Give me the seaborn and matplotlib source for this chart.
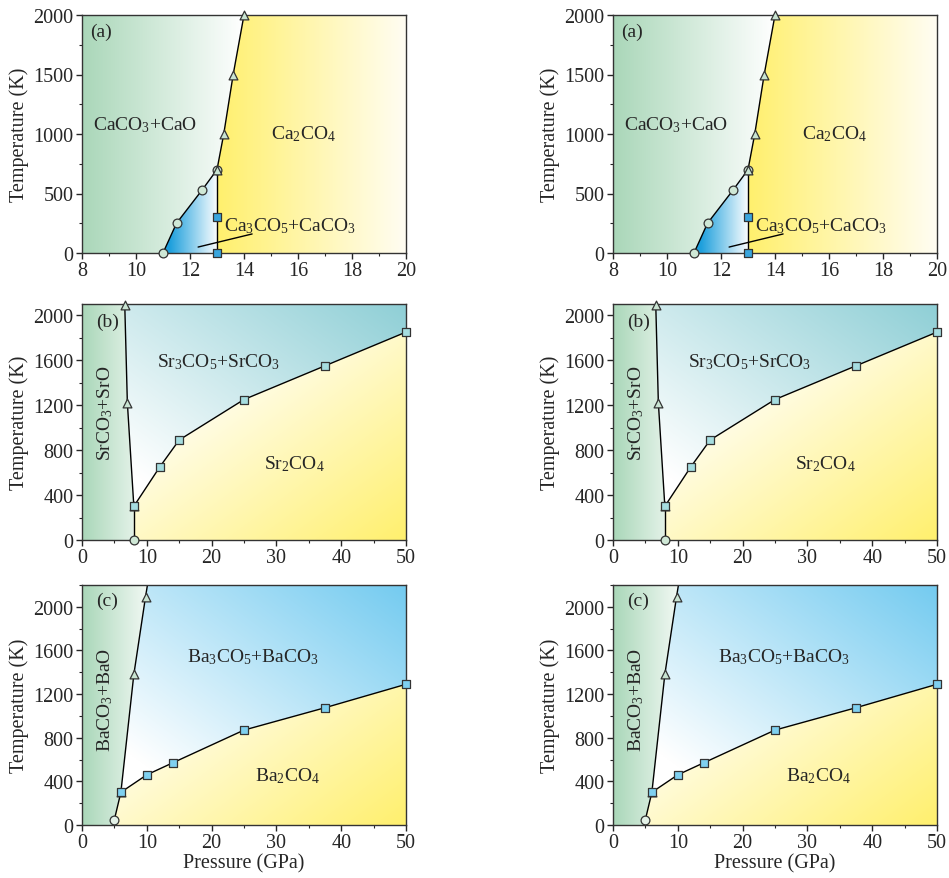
import numpy as np
import matplotlib
matplotlib.use("Agg")
import matplotlib.pyplot as plt
from matplotlib.colors import LinearSegmentedColormap
from matplotlib.patches import Polygon
from matplotlib.ticker import MultipleLocator
import seaborn as sns

sns.set_style("ticks")
plt.rcParams['font.family'] = ['Liberation Serif', 'DejaVu Serif']
plt.rcParams['mathtext.fontset'] = 'custom'
plt.rcParams['mathtext.default'] = 'regular'

# ---- data (pressure in GPa, temperature in K) ----
# panel (a) Ca
a_circ_p = [11.0, 11.5, 12.45, 13.0]
a_circ_t = [0, 250, 530, 700]
a_tri_p = [13.0, 13.25, 13.6, 14.0]
a_tri_t = [700, 1000, 1500, 2000]
a_sq_p = [13.0, 13.0]
a_sq_t = [0, 300]

# panel (b) Sr
b_tri_p = [6.6, 7.0, 8.0]
b_tri_t = [2090, 1220, 300]
b_circ_p = [8.0]
b_circ_t = [0]
b_sq_p = [8.0, 12.0, 15.0, 25.0, 37.5, 50.0]
b_sq_t = [300, 650, 890, 1250, 1550, 1850]
b_top = (6.55, 2100)

# panel (c) Ba
c_circ_p = [5.0]
c_circ_t = [50]
c_tri_p = [6.0, 8.0, 9.8]
c_tri_t = [300, 1380, 2090]
c_sq_p = [6.0, 10.0, 14.0, 25.0, 37.5, 50.0]
c_sq_t = [300, 460, 570, 870, 1075, 1290]
c_top = (10.1, 2200)

GREEN = '#aad7b9'
YELLOW = '#fff06e'
BLUE_A = '#1d9fdc'
TEAL_B = '#8fcfd6'
BLUE_C = '#74cbf0'
EDGE = '#333333'


def fill_region(ax, pts, xlim, ylim, tfunc, c0, c1, t0, t1):
    xs = np.linspace(xlim[0], xlim[1], 400)
    ys = np.linspace(ylim[0], ylim[1], 400)
    X, Y = np.meshgrid(xs, ys)
    U = (X - xlim[0]) / (xlim[1] - xlim[0])
    V = (Y - ylim[0]) / (ylim[1] - ylim[0])
    T = np.clip((tfunc(U, V) - t0) / (t1 - t0), 0, 1)
    cmap = LinearSegmentedColormap.from_list('g', [c0, c1])
    im = ax.imshow(T, cmap=cmap, vmin=0, vmax=1, origin='lower',
                   extent=[xlim[0], xlim[1], ylim[0], ylim[1]],
                   aspect='auto', zorder=0, interpolation='bilinear')
    patch = Polygon(pts, closed=True, transform=ax.transData,
                    facecolor='none', edgecolor='none')
    ax.add_patch(patch)
    im.set_clip_path(patch)


def line(ax, x, y):
    sns.lineplot(x=x, y=y, sort=False, estimator=None, color='black',
                 linewidth=1.0, ax=ax, zorder=2)


def marks(ax, x, y, marker, face, s):
    sns.scatterplot(x=x, y=y, marker=marker, color=face, edgecolor=EDGE,
                    linewidth=0.9, s=s, ax=ax, zorder=3, clip_on=False)


def style_axes(ax, xlim, ylim, xmaj, xmin, ymaj, ymin, xlabel):
    ax.set_xlim(xlim)
    ax.set_ylim(ylim)
    ax.xaxis.set_major_locator(MultipleLocator(xmaj))
    ax.xaxis.set_minor_locator(MultipleLocator(xmin))
    ax.yaxis.set_major_locator(MultipleLocator(ymaj))
    ax.yaxis.set_minor_locator(MultipleLocator(ymin))
    ax.tick_params(which='major', direction='out', length=4, width=1,
                   labelsize=14.5, pad=2)
    ax.tick_params(which='minor', direction='out', length=2.5, width=0.8)
    for sp in ax.spines.values():
        sp.set_visible(True)
        sp.set_color(EDGE)
        sp.set_linewidth(1.0)
    ax.set_ylabel('Temperature (K)', fontsize=14.5, labelpad=3)
    ax.set_xlabel(xlabel, fontsize=14.5, labelpad=1)


def panel_a(ax):
    xl, yl = (8, 20), (0, 2000)
    bnd = list(zip(a_circ_p, a_circ_t)) + list(zip(a_tri_p[1:], a_tri_t[1:]))
    fill_region(ax, [(8, 0)] + bnd + [(8, 2000)], xl, yl,
                lambda u, v: u, GREEN, '#ffffff', 0.0, 0.5)
    fill_region(ax, list(zip(a_circ_p, a_circ_t)) + [(13, 0)], xl, yl,
                lambda u, v: u, BLUE_A, '#ffffff', 0.27, 0.42)
    fill_region(ax, [(13, 0), (13, 700)] + list(zip(a_tri_p[1:], a_tri_t[1:])) +
                [(20, 2000), (20, 0)], xl, yl,
                lambda u, v: u, YELLOW, '#fffdf2', 0.42, 1.0)
    line(ax, a_circ_p, a_circ_t)
    line(ax, a_tri_p, a_tri_t)
    line(ax, [13.0, 13.0], [0, 700])
    line(ax, [12.3, 14.3], [50, 160])
    marks(ax, a_circ_p, a_circ_t, 'o', '#cfe8d6', 40)
    marks(ax, a_tri_p, a_tri_t, '^', '#c9e4d2', 40)
    marks(ax, a_sq_p, a_sq_t, 's', '#3aa6de', 26)
    ax.text(10.35, 1080, r'CaCO$_3$+CaO', fontsize=14, ha='center', va='center')
    ax.text(16.2, 1010, r'Ca$_2$CO$_4$', fontsize=14, ha='center', va='center')
    ax.text(13.25, 235, r'Ca$_3$CO$_5$+CaCO$_3$', fontsize=14, ha='left', va='center')
    ax.text(8.3, 1860, '(a)', fontsize=14, ha='left', va='center')
    style_axes(ax, xl, yl, 2, 1, 500, 250, '')


def panel_b(ax):
    xl, yl = (0, 50), (0, 2100)
    tri = list(zip(b_tri_p, b_tri_t))[::-1]
    sq = list(zip(b_sq_p, b_sq_t))
    fill_region(ax, [(0, 0), (8, 0)] + tri + [b_top, (0, 2100)], xl, yl,
                lambda u, v: u, GREEN, '#ffffff', 0.0, 0.24)
    fill_region(ax, tri + [b_top, (50, 2100)] + sq[::-1], xl, yl,
                lambda u, v: (u + v) / 2, '#ffffff', TEAL_B, 0.22, 1.0)
    fill_region(ax, [(8, 0)] + sq + [(50, 0)], xl, yl,
                lambda u, v: (u + 1 - v) / 2, '#ffffff', YELLOW, 0.3, 1.0)
    line(ax, [b_top[0]] + b_tri_p, [b_top[1]] + b_tri_t)
    line(ax, [8.0, 8.0], [0, 300])
    line(ax, b_sq_p, b_sq_t)
    marks(ax, b_circ_p, b_circ_t, 'o', '#cfe8d6', 40)
    marks(ax, b_tri_p, b_tri_t, '^', '#c9e4d2', 40)
    marks(ax, b_sq_p, b_sq_t, 's', '#a6dde0', 26)
    ax.text(21.0, 1590, r'Sr$_3$CO$_5$+SrCO$_3$', fontsize=14, ha='center', va='center')
    ax.text(32.8, 680, r'Sr$_2$CO$_4$', fontsize=14, ha='center', va='center')
    ax.text(3.6, 1140, r'SrCO$_3$+SrO', fontsize=14, ha='center', va='center',
            rotation=90)
    ax.text(2.2, 1950, '(b)', fontsize=14, ha='left', va='center')
    style_axes(ax, xl, yl, 10, 5, 400, 200, '')


def panel_c(ax):
    xl, yl = (0, 50), (0, 2200)
    tri = list(zip(c_tri_p, c_tri_t))
    sq = list(zip(c_sq_p, c_sq_t))
    fill_region(ax, [(0, 0), (5, 0), (5, 50)] + tri + [c_top, (0, 2200)], xl, yl,
                lambda u, v: u, GREEN, '#ffffff', 0.0, 0.24)
    fill_region(ax, tri + [c_top, (50, 2200)] + sq[::-1], xl, yl,
                lambda u, v: (u + v) / 2, '#ffffff', BLUE_C, 0.22, 1.0)
    fill_region(ax, [(5, 0), (5, 50)] + sq + [(50, 0)], xl, yl,
                lambda u, v: (u + 1 - v) / 2, '#ffffff', YELLOW, 0.3, 1.0)
    line(ax, c_circ_p + c_tri_p + [c_top[0]], c_circ_t + c_tri_t + [c_top[1]])
    line(ax, c_sq_p, c_sq_t)
    marks(ax, c_circ_p, c_circ_t, 'o', '#e4f2e8', 40)
    marks(ax, c_tri_p, c_tri_t, '^', '#c9e4d2', 40)
    marks(ax, c_sq_p, c_sq_t, 's', '#7fd0f0', 26)
    ax.text(26.3, 1550, r'Ba$_3$CO$_5$+BaCO$_3$', fontsize=14, ha='center', va='center')
    ax.text(31.7, 460, r'Ba$_2$CO$_4$', fontsize=14, ha='center', va='center')
    ax.text(3.5, 1160, r'BaCO$_3$+BaO', fontsize=14, ha='center', va='center',
            rotation=90)
    ax.text(2.2, 2060, '(c)', fontsize=14, ha='left', va='center')
    style_axes(ax, xl, yl, 10, 5, 400, 200, 'Pressure (GPa)')


fig = plt.figure(figsize=(9.49, 8.79), dpi=100)
lefts = [82 / 949, 613 / 949]
width = 324 / 949
rows = [(16, 254, panel_a), (305, 541, panel_b), (586, 826, panel_c)]
for left in lefts:
    for top, bottom, fn in rows:
        ax = fig.add_axes([left, 1 - bottom / 879, width, (bottom - top) / 879])
        fn(ax)

fig.savefig('out.png', dpi=100)
